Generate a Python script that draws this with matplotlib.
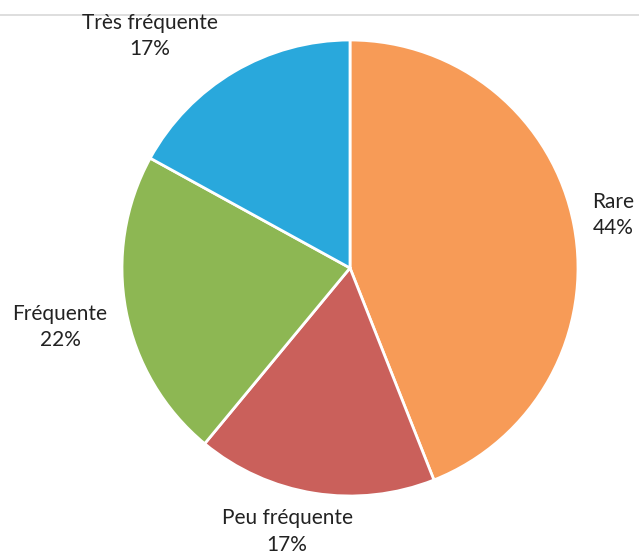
import matplotlib.pyplot as plt
from matplotlib.lines import Line2D

labels = ['Rare', 'Peu fréquente', 'Fréquente', 'Très fréquente']
shares = [44, 17, 22, 17]
colors = ['#F79B57', '#CA605B', '#8DB753', '#29A8DC']
# label anchors in axes data units (pie radius = 1)
label_xy = [(1.153, 0.232), (-0.276, -1.155), (-1.272, -0.259), (-0.877, 1.018)]

plt.rcParams['font.family'] = ['Lato', 'DejaVu Sans']

fig = plt.figure(figsize=(6.39, 5.55), dpi=100)
ax = fig.add_axes([122 / 639, 59 / 555, 456 / 639, 456 / 555])

wedges, texts = ax.pie(shares, colors=colors, startangle=90, counterclock=False,
                       radius=1, wedgeprops=dict(edgecolor='white', linewidth=2))

for lab, val, (x, y) in zip(labels, shares, label_xy):
    ax.text(x, y, f'{lab}\n{val}%', ha='center', va='center', fontsize=15,
            color='#222222', linespacing=1.4)

ax.set_xlim(-1, 1)
ax.set_ylim(-1, 1)
ax.set_aspect('equal')
ax.axis('off')

# faint rule along the top of the page
fig.add_artist(Line2D([0, 1], [1 - 15 / 555, 1 - 15 / 555], color='#d8d8d8', lw=1.2,
                      zorder=0))

fig.savefig('out.png', dpi=100, facecolor='white')
